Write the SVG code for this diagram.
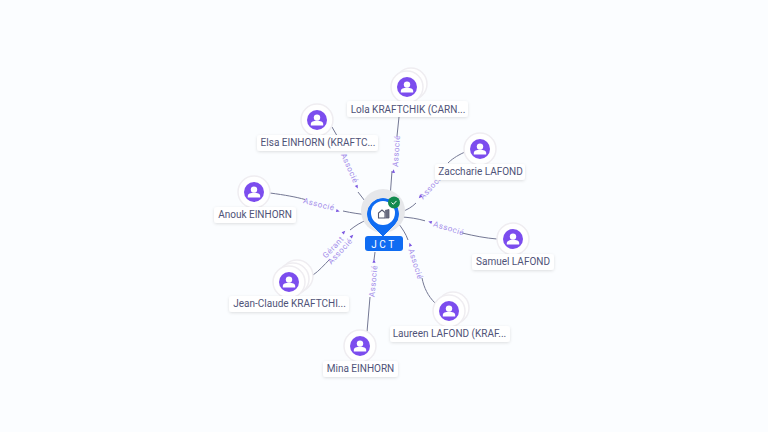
<svg xmlns="http://www.w3.org/2000/svg" xmlns:xlink="http://www.w3.org/1999/xlink" width="768" height="432" viewBox="0 0 768 432">
<style>
.bg{fill:#fbfdff}
.edge{fill:none;stroke:#747894;stroke-width:1}
.el{font:8px Roboto,"Noto Sans",sans-serif;letter-spacing:.5px;fill:#a48eea;text-anchor:middle}
.tip{fill:#7a56e0}
.halo{fill:#fff;stroke:#efedf1;stroke-width:1.5}
.av{fill:#7c4dee}
.pp{fill:#fff}
.lb{fill:#fff;filter:url(#s)}
.t{font:10px Roboto,"Noto Sans",sans-serif;fill:#4f5378;text-anchor:middle}
</style>
<defs>
<filter id="s" x="-20%" y="-40%" width="140%" height="200%"><feDropShadow dx="0" dy="1" stdDeviation="1.500" flood-color="#000" flood-opacity="0.12"/></filter>
<g id="person"><circle r="16" class="halo"/><circle r="10" class="av"/><circle cy="-2.400" r="3.200" class="pp"/><path class="pp" d="M-6.200 5.500v-1.500c0-2 2.700-3.200 6.200-3.200s6.200 1.200 6.200 3.200v1.500z"/></g>
<g id="tri"><path class="tip" d="M-1.800-1.600 1.800 0-1.800 1.600z"/></g>
</defs>
<rect class="bg" width="768" height="432"/>
<g id="connectors">
<path class="edge" d="M399 117L397 136M392 171L390 198"/>
<path class="edge" d="M332 127L344 148M358 192L368 205"/>
<path class="edge" d="M270 193C285 195 296 197 305 199.500M343 211C352 213 360 214 368 215"/>
<path class="edge" d="M465 152C456 156 451 160 448 163M416 203C412 207 407 210 401 212"/>
<path class="edge" d="M497 239C485 238 475 236 462 233M425 220.800C417 218.500 410 217.500 400 216.800"/>
<path class="edge" d="M435 303C428 296 424 288 422 278M408 240C406 234 402 228 398 223"/>
<path class="edge" d="M367 332L370 297M374 260L375 252"/>
<path class="edge" d="M313 275C319 271 324 265 330 259M350 230C355 226 361 222 367 220"/>
</g>
<g id="edge-labels">
<text class="el" dy="3" transform="translate(396 151) rotate(-86)">Associé</text><use xlink:href="#tri" transform="translate(393.500 171) rotate(-86)"/>
<text class="el" dy="3" transform="translate(350 168) rotate(66)">Associé</text><use xlink:href="#tri" transform="translate(357 187) rotate(63)"/>
<text class="el" dy="3" transform="translate(319 204) rotate(14)">Associé</text><use xlink:href="#tri" transform="translate(338 211) rotate(14)"/>
<text class="el" dy="3" transform="translate(431.500 186) rotate(-48)">Associé</text><use xlink:href="#tri" transform="translate(420 197) rotate(132)"/>
<text class="el" dy="3" transform="translate(449 228) rotate(17)">Associé</text><use xlink:href="#tri" transform="translate(430 222) rotate(197)"/>
<text class="el" dy="3" transform="translate(416 264) rotate(72)">Associé</text><use xlink:href="#tri" transform="translate(410 244.500) rotate(252)"/>
<text class="el" dy="3" transform="translate(373 281) rotate(-85)">Associé</text><use xlink:href="#tri" transform="translate(374 261) rotate(-90)"/>
<text class="el" dy="3" transform="translate(333 247) rotate(-47)">Gérant</text><use xlink:href="#tri" transform="translate(344 232) rotate(-45)"/>
<text class="el" dy="3" transform="translate(340 251) rotate(-47)">Associé</text><use xlink:href="#tri" transform="translate(352 236) rotate(-45)"/>
</g>
<g id="node-lola"><use xlink:href="#person" transform="translate(411 84)"/><use xlink:href="#person" transform="translate(407 87)"/><rect class="lb" x="347" y="101" width="121" height="16" rx="3"/><text class="t" x="408" y="113">Lola KRAFTCHIK (CARN...</text></g>
<g id="node-elsa"><use xlink:href="#person" transform="translate(317 120)"/><rect class="lb" x="257" y="135" width="121" height="16" rx="3"/><text class="t" x="318" y="146">Elsa EINHORN (KRAFTC...</text></g>
<g id="node-anouk"><use xlink:href="#person" transform="translate(254 192)"/><rect class="lb" x="214" y="207" width="82" height="16" rx="3"/><text class="t" x="255" y="218">Anouk EINHORN</text></g>
<g id="node-zaccharie"><use xlink:href="#person" transform="translate(480 149)"/><rect class="lb" x="435" y="164" width="90" height="16" rx="3"/><text class="t" x="480.500" y="175">Zaccharie LAFOND</text></g>
<g id="node-samuel"><use xlink:href="#person" transform="translate(513 239)"/><rect class="lb" x="472" y="254" width="82" height="16" rx="3"/><text class="t" x="513" y="265">Samuel LAFOND</text></g>
<g id="node-laureen"><use xlink:href="#person" transform="translate(453 308)"/><use xlink:href="#person" transform="translate(449 311)"/><rect class="lb" x="390" y="326" width="120" height="16" rx="3"/><text class="t" x="449.500" y="337">Laureen LAFOND (KRAF...</text></g>
<g id="node-mina"><use xlink:href="#person" transform="translate(360 346)"/><rect class="lb" x="323" y="361" width="75" height="16" rx="3"/><text class="t" x="360.500" y="372">Mina EINHORN</text></g>
<g id="node-jean"><use xlink:href="#person" transform="translate(297 276)"/><use xlink:href="#person" transform="translate(293 279)"/><use xlink:href="#person" transform="translate(289 282)"/><rect class="lb" x="229" y="296" width="120" height="16" rx="3"/><text class="t" x="289.500" y="307">Jean-Claude KRAFTCHI...</text></g>
<g id="node-jct">
<circle cx="383" cy="211" r="22" fill="#e6e7ea"/>
<path d="M383 236 L372 225A15.500 15.500 0 1 1 394 225Z" fill="#0f6cf2" stroke="#0f6cf2" stroke-linejoin="round"/>
<circle cx="383" cy="213" r="12" fill="#fff"/>
<path d="M378.500 218v-5l3.500-3 3 2.500v5.500z" fill="none" stroke="#55586e" stroke-width="1.100"/>
<path d="M385 210.500l4-1v8.500h-3.500" fill="#6a6d80" stroke="#55586e" stroke-width=".8"/>
<circle cx="394" cy="202.500" r="6" fill="#128a4e"/>
<path d="M391.500 202.500l1.800 1.800 3.200-3.400" fill="none" stroke="#fff" stroke-width="1"/>
<rect x="365" y="236" width="38" height="15" rx="3" fill="#0f6cf2"/>
<text x="384" y="247.500" font-family="Roboto,'Noto Sans',sans-serif" font-size="10" letter-spacing="2.500" fill="#fff" text-anchor="middle">JCT</text>
</g>
</svg>
